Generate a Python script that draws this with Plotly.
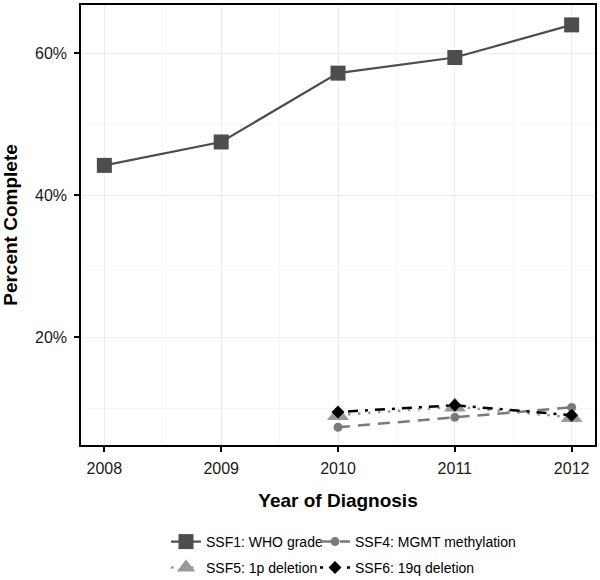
import plotly.graph_objects as go

years = [2008, 2009, 2010, 2011, 2012]
years_low = [2010, 2011, 2012]
ssf1 = [44.2, 47.5, 57.2, 59.4, 64.0]
ssf4 = [7.3, 8.7, 10.1]
ssf5 = [9.0, 10.2, 8.7]
ssf6 = [9.45, 10.4, 9.0]

FONT = "Liberation Sans, Arial, sans-serif"
W, H = 600, 580
ML, MR, MT, MB = 81, 5, 5, 135
PW, PH = W - ML - MR, H - MT - MB

fig = go.Figure()
fig.add_trace(go.Scatter(x=years, y=ssf1, name="SSF1: WHO grade", mode="lines+markers",
                         line=dict(color="#4d4d4d", width=2.2),
                         marker=dict(symbol="square", size=15, color="#4d4d4d"),
                         legend="legend"))
fig.add_trace(go.Scatter(x=years_low, y=ssf4, name="SSF4: MGMT methylation", mode="lines+markers",
                         line=dict(color="#7a7a7a", width=2.5, dash="12px,8px"),
                         marker=dict(symbol="circle", size=9, color="#7a7a7a"),
                         legend="legend2"))
fig.add_trace(go.Scatter(x=years_low, y=ssf5, name="SSF5: 1p deletion", mode="lines+markers",
                         line=dict(color="#999999", width=2.5, dash="2.5px,7.5px"),
                         marker=dict(symbol="triangle-up", size=19, color="#999999"),
                         legend="legend3"))
fig.add_trace(go.Scatter(x=years_low, y=ssf6, name="SSF6: 19q deletion", mode="lines+markers",
                         line=dict(color="#000000", width=2.5, dash="3px,7px,10px,7px"),
                         marker=dict(symbol="diamond", size=10, color="#000000"),
                         legend="legend4"))


def leg(x_px, y_px):
    return dict(orientation="v",
                x=(x_px - ML) / PW, xanchor="left",
                y=(MT + PH - y_px) / PH, yanchor="middle",
                font=dict(size=14), itemwidth=30, bgcolor="rgba(0,0,0,0)")


fig.update_layout(
    width=W, height=H,
    margin=dict(l=ML, r=MR, t=MT, b=MB, autoexpand=False),
    paper_bgcolor="white", plot_bgcolor="white",
    font=dict(family=FONT, size=14, color="black"),
    xaxis=dict(range=[2007.8, 2012.2], tickvals=years, ticktext=[str(y) for y in years],
               ticks="outside", ticklen=5, tickwidth=1.5, tickcolor="black",
               ticklabelstandoff=3,
               tickfont=dict(size=16, color="#1a1a1a"),
               showline=True, linecolor="black", linewidth=1.5, mirror=True,
               showgrid=True, gridcolor="#ececec", gridwidth=1, zeroline=False,
               minor=dict(dtick=0.5, tick0=2007.5, showgrid=True, gridcolor="#f6f6f6", gridwidth=1),
               title=dict(text="<b>Year of Diagnosis</b>", font=dict(size=19), standoff=18)),
    yaxis=dict(range=[4.8, 66.8], tickvals=[20, 40, 60], ticktext=["20%", "40%", "60%"],
               ticks="outside", ticklen=5, tickwidth=1.5, tickcolor="black",
               ticklabelstandoff=4,
               tickfont=dict(size=16, color="#1a1a1a"),
               showline=True, linecolor="black", linewidth=1.5, mirror=True,
               showgrid=True, gridcolor="#ececec", gridwidth=1, zeroline=False,
               minor=dict(tickvals=[10, 30, 50], showgrid=True, gridcolor="#f6f6f6", gridwidth=1),
               title=dict(text="<b>Percent Complete</b>", font=dict(size=19), standoff=12)),
    legend=leg(166, 542),
    legend2=leg(315, 542),
    legend3=leg(166, 568),
    legend4=leg(315, 568),
    showlegend=True,
)

fig.write_html("out.html", config={"displayModeBar": False},
               post_script="document.body.style.margin='0px';")
